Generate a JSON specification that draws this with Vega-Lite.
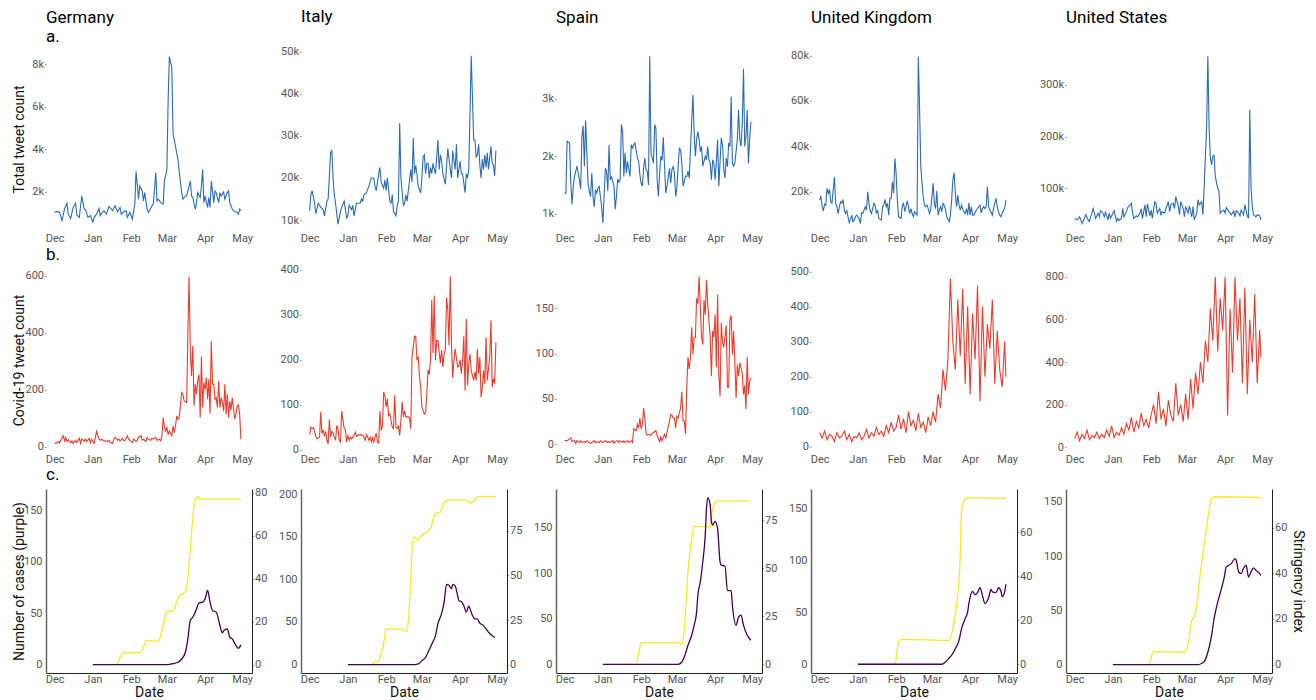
{
"$schema":"https://vega.github.io/schema/vega-lite/v6.json",
"background":"white",
"padding":{"left":12,"top":7,"right":2,"bottom":2},
"config":{
"view":{"stroke":null},
"font":"Roboto",
"axis":{"grid":false,"labelFont":"Roboto","labelFontSize":11,"labelColor":"#555555","titleFont":"Roboto","titleFontSize":14,"titleFontWeight":"normal","titleColor":"#111111","labelFlush":false},
"axisY":{"domain":false,"ticks":true,"tickSize":1.5,"tickColor":"#888888","labelPadding":1},
"axisX":{"domain":false,"ticks":false,"labelPadding":1},
"title":{"font":"Roboto","fontSize":17,"fontWeight":"normal","anchor":"start","frame":"group","color":"#000000","subtitleFont":"Roboto","subtitleFontSize":17,"subtitleColor":"#000000"},
"line":{"strokeWidth":1.1}
},
"datasets":{
"ta":[
{"c":"DE","d":"2019-12-01","v":1040},{"c":"DE","d":"2019-12-03","v":1090},{"c":"DE","d":"2019-12-05","v":1040},{"c":"DE","d":"2019-12-07","v":660},{"c":"DE","d":"2019-12-09","v":1200},{"c":"DE","d":"2019-12-11","v":1470},{"c":"DE","d":"2019-12-12","v":960},{"c":"DE","d":"2019-12-14","v":760},{"c":"DE","d":"2019-12-16","v":1270},{"c":"DE","d":"2019-12-18","v":1470},{"c":"DE","d":"2019-12-19","v":920},{"c":"DE","d":"2019-12-21","v":810},{"c":"DE","d":"2019-12-23","v":1810},{"c":"DE","d":"2019-12-25","v":1200},{"c":"DE","d":"2019-12-26","v":1170},{"c":"DE","d":"2019-12-28","v":810},{"c":"DE","d":"2019-12-30","v":890},{"c":"DE","d":"2020-01-01","v":580},{"c":"DE","d":"2020-01-02","v":810},{"c":"DE","d":"2020-01-04","v":960},{"c":"DE","d":"2020-01-06","v":1230},{"c":"DE","d":"2020-01-07","v":890},{"c":"DE","d":"2020-01-09","v":1070},{"c":"DE","d":"2020-01-10","v":1120},{"c":"DE","d":"2020-01-12","v":960},{"c":"DE","d":"2020-01-14","v":1320},{"c":"DE","d":"2020-01-16","v":1200},{"c":"DE","d":"2020-01-17","v":1120},{"c":"DE","d":"2020-01-19","v":1350},{"c":"DE","d":"2020-01-21","v":1070},{"c":"DE","d":"2020-01-23","v":1270},{"c":"DE","d":"2020-01-24","v":960},{"c":"DE","d":"2020-01-26","v":1070},{"c":"DE","d":"2020-01-28","v":1120},{"c":"DE","d":"2020-01-29","v":810},{"c":"DE","d":"2020-01-31","v":1040},{"c":"DE","d":"2020-02-02","v":730},{"c":"DE","d":"2020-02-04","v":1430},{"c":"DE","d":"2020-02-05","v":2970},{"c":"DE","d":"2020-02-07","v":1660},{"c":"DE","d":"2020-02-08","v":2280},{"c":"DE","d":"2020-02-10","v":2050},{"c":"DE","d":"2020-02-11","v":1580},{"c":"DE","d":"2020-02-12","v":1970},{"c":"DE","d":"2020-02-14","v":1200},{"c":"DE","d":"2020-02-15","v":1040},{"c":"DE","d":"2020-02-18","v":1350},{"c":"DE","d":"2020-02-19","v":1430},{"c":"DE","d":"2020-02-21","v":2900},{"c":"DE","d":"2020-02-22","v":1580},{"c":"DE","d":"2020-02-23","v":1660},{"c":"DE","d":"2020-02-25","v":1500},{"c":"DE","d":"2020-02-27","v":1430},{"c":"DE","d":"2020-02-28","v":2510},{"c":"DE","d":"2020-03-01","v":3050},{"c":"DE","d":"2020-03-02","v":6300},{"c":"DE","d":"2020-03-03","v":8350},{"c":"DE","d":"2020-03-05","v":7840},{"c":"DE","d":"2020-03-06","v":4750},{"c":"DE","d":"2020-03-08","v":4130},{"c":"DE","d":"2020-03-09","v":3820},{"c":"DE","d":"2020-03-10","v":3510},{"c":"DE","d":"2020-03-12","v":2430},{"c":"DE","d":"2020-03-13","v":1970},{"c":"DE","d":"2020-03-14","v":1660},{"c":"DE","d":"2020-03-16","v":1810},{"c":"DE","d":"2020-03-17","v":1810},{"c":"DE","d":"2020-03-18","v":2050},{"c":"DE","d":"2020-03-20","v":2510},{"c":"DE","d":"2020-03-21","v":1810},{"c":"DE","d":"2020-03-22","v":1740},{"c":"DE","d":"2020-03-24","v":1200},{"c":"DE","d":"2020-03-25","v":1500},{"c":"DE","d":"2020-03-26","v":1970},{"c":"DE","d":"2020-03-28","v":1740},{"c":"DE","d":"2020-03-29","v":2280},{"c":"DE","d":"2020-03-30","v":3050},{"c":"DE","d":"2020-03-31","v":1500},{"c":"DE","d":"2020-04-01","v":1810},{"c":"DE","d":"2020-04-03","v":1270},{"c":"DE","d":"2020-04-04","v":1740},{"c":"DE","d":"2020-04-05","v":1270},{"c":"DE","d":"2020-04-06","v":2510},{"c":"DE","d":"2020-04-08","v":1500},{"c":"DE","d":"2020-04-09","v":2050},{"c":"DE","d":"2020-04-10","v":1970},{"c":"DE","d":"2020-04-12","v":1500},{"c":"DE","d":"2020-04-13","v":1970},{"c":"DE","d":"2020-04-14","v":1810},{"c":"DE","d":"2020-04-16","v":2000},{"c":"DE","d":"2020-04-17","v":1660},{"c":"DE","d":"2020-04-19","v":1970},{"c":"DE","d":"2020-04-20","v":2050},{"c":"DE","d":"2020-04-21","v":1500},{"c":"DE","d":"2020-04-23","v":1200},{"c":"DE","d":"2020-04-24","v":1120},{"c":"DE","d":"2020-04-27","v":1040},{"c":"DE","d":"2020-04-28","v":960},{"c":"DE","d":"2020-04-29","v":1200},{"c":"DE","d":"2020-04-30","v":1120},
{"c":"IT","d":"2019-12-01","v":12200},{"c":"IT","d":"2019-12-02","v":16000},{"c":"IT","d":"2019-12-03","v":17000},{"c":"IT","d":"2019-12-05","v":14000},{"c":"IT","d":"2019-12-06","v":11500},{"c":"IT","d":"2019-12-08","v":14000},{"c":"IT","d":"2019-12-10","v":13000},{"c":"IT","d":"2019-12-12","v":12500},{"c":"IT","d":"2019-12-13","v":11000},{"c":"IT","d":"2019-12-15","v":14500},{"c":"IT","d":"2019-12-16","v":15000},{"c":"IT","d":"2019-12-18","v":26000},{"c":"IT","d":"2019-12-19","v":26500},{"c":"IT","d":"2019-12-20","v":20000},{"c":"IT","d":"2019-12-21","v":16000},{"c":"IT","d":"2019-12-22","v":14000},{"c":"IT","d":"2019-12-24","v":9000},{"c":"IT","d":"2019-12-26","v":12000},{"c":"IT","d":"2019-12-27","v":13000},{"c":"IT","d":"2019-12-29","v":14500},{"c":"IT","d":"2019-12-31","v":10500},{"c":"IT","d":"2020-01-01","v":11000},{"c":"IT","d":"2020-01-02","v":13500},{"c":"IT","d":"2020-01-04","v":12500},{"c":"IT","d":"2020-01-05","v":13500},{"c":"IT","d":"2020-01-06","v":11000},{"c":"IT","d":"2020-01-08","v":14000},{"c":"IT","d":"2020-01-10","v":14000},{"c":"IT","d":"2020-01-11","v":14000},{"c":"IT","d":"2020-01-12","v":15000},{"c":"IT","d":"2020-01-13","v":14500},{"c":"IT","d":"2020-01-14","v":16000},{"c":"IT","d":"2020-01-16","v":16500},{"c":"IT","d":"2020-01-18","v":18000},{"c":"IT","d":"2020-01-20","v":20000},{"c":"IT","d":"2020-01-22","v":20000},{"c":"IT","d":"2020-01-23","v":18000},{"c":"IT","d":"2020-01-24","v":17000},{"c":"IT","d":"2020-01-26","v":21000},{"c":"IT","d":"2020-01-27","v":22500},{"c":"IT","d":"2020-01-28","v":19000},{"c":"IT","d":"2020-01-30","v":17500},{"c":"IT","d":"2020-01-31","v":19500},{"c":"IT","d":"2020-02-01","v":17000},{"c":"IT","d":"2020-02-02","v":20000},{"c":"IT","d":"2020-02-04","v":14500},{"c":"IT","d":"2020-02-05","v":14000},{"c":"IT","d":"2020-02-06","v":16000},{"c":"IT","d":"2020-02-07","v":12000},{"c":"IT","d":"2020-02-09","v":11000},{"c":"IT","d":"2020-02-10","v":13500},{"c":"IT","d":"2020-02-11","v":14500},{"c":"IT","d":"2020-02-12","v":33000},{"c":"IT","d":"2020-02-13","v":20000},{"c":"IT","d":"2020-02-15","v":13500},{"c":"IT","d":"2020-02-16","v":14000},{"c":"IT","d":"2020-02-17","v":16000},{"c":"IT","d":"2020-02-18","v":14500},{"c":"IT","d":"2020-02-19","v":17000},{"c":"IT","d":"2020-02-21","v":22000},{"c":"IT","d":"2020-02-22","v":19000},{"c":"IT","d":"2020-02-23","v":29500},{"c":"IT","d":"2020-02-24","v":21000},{"c":"IT","d":"2020-02-25","v":23000},{"c":"IT","d":"2020-02-26","v":21000},{"c":"IT","d":"2020-02-27","v":18000},{"c":"IT","d":"2020-02-29","v":16500},{"c":"IT","d":"2020-03-01","v":20000},{"c":"IT","d":"2020-03-02","v":25000},{"c":"IT","d":"2020-03-03","v":25500},{"c":"IT","d":"2020-03-04","v":21000},{"c":"IT","d":"2020-03-05","v":23500},{"c":"IT","d":"2020-03-06","v":23500},{"c":"IT","d":"2020-03-07","v":20000},{"c":"IT","d":"2020-03-08","v":22500},{"c":"IT","d":"2020-03-09","v":21000},{"c":"IT","d":"2020-03-10","v":23500},{"c":"IT","d":"2020-03-11","v":22000},{"c":"IT","d":"2020-03-12","v":21000},{"c":"IT","d":"2020-03-14","v":29000},{"c":"IT","d":"2020-03-15","v":22000},{"c":"IT","d":"2020-03-16","v":25500},{"c":"IT","d":"2020-03-17","v":24000},{"c":"IT","d":"2020-03-18","v":21000},{"c":"IT","d":"2020-03-20","v":18500},{"c":"IT","d":"2020-03-22","v":27000},{"c":"IT","d":"2020-03-24","v":22000},{"c":"IT","d":"2020-03-25","v":20000},{"c":"IT","d":"2020-03-26","v":26500},{"c":"IT","d":"2020-03-28","v":22000},{"c":"IT","d":"2020-03-29","v":28000},{"c":"IT","d":"2020-03-30","v":20000},{"c":"IT","d":"2020-04-01","v":24000},{"c":"IT","d":"2020-04-02","v":21000},{"c":"IT","d":"2020-04-03","v":21000},{"c":"IT","d":"2020-04-05","v":16500},{"c":"IT","d":"2020-04-06","v":21000},{"c":"IT","d":"2020-04-07","v":20000},{"c":"IT","d":"2020-04-08","v":22000},{"c":"IT","d":"2020-04-10","v":49000},{"c":"IT","d":"2020-04-12","v":29000},{"c":"IT","d":"2020-04-13","v":29000},{"c":"IT","d":"2020-04-14","v":25000},{"c":"IT","d":"2020-04-15","v":25500},{"c":"IT","d":"2020-04-16","v":28000},{"c":"IT","d":"2020-04-17","v":23000},{"c":"IT","d":"2020-04-18","v":20000},{"c":"IT","d":"2020-04-19","v":24500},{"c":"IT","d":"2020-04-20","v":22000},{"c":"IT","d":"2020-04-21","v":25500},{"c":"IT","d":"2020-04-22","v":22500},{"c":"IT","d":"2020-04-23","v":26000},{"c":"IT","d":"2020-04-24","v":22000},{"c":"IT","d":"2020-04-26","v":27500},{"c":"IT","d":"2020-04-27","v":23500},{"c":"IT","d":"2020-04-28","v":23000},{"c":"IT","d":"2020-04-29","v":20500},{"c":"IT","d":"2020-04-30","v":26500},
{"c":"ES","d":"2019-12-01","v":1360},{"c":"ES","d":"2019-12-02","v":1350},{"c":"ES","d":"2019-12-03","v":2260},{"c":"ES","d":"2019-12-05","v":2230},{"c":"ES","d":"2019-12-06","v":1530},{"c":"ES","d":"2019-12-07","v":1160},{"c":"ES","d":"2019-12-08","v":1480},{"c":"ES","d":"2019-12-09","v":1650},{"c":"ES","d":"2019-12-11","v":1830},{"c":"ES","d":"2019-12-12","v":1710},{"c":"ES","d":"2019-12-13","v":1590},{"c":"ES","d":"2019-12-14","v":1430},{"c":"ES","d":"2019-12-15","v":2340},{"c":"ES","d":"2019-12-16","v":2530},{"c":"ES","d":"2019-12-17","v":1820},{"c":"ES","d":"2019-12-18","v":2620},{"c":"ES","d":"2019-12-19","v":2060},{"c":"ES","d":"2019-12-20","v":1530},{"c":"ES","d":"2019-12-21","v":1390},{"c":"ES","d":"2019-12-22","v":1300},{"c":"ES","d":"2019-12-23","v":1710},{"c":"ES","d":"2019-12-24","v":1300},{"c":"ES","d":"2019-12-25","v":1120},{"c":"ES","d":"2019-12-26","v":1420},{"c":"ES","d":"2019-12-27","v":1360},{"c":"ES","d":"2019-12-28","v":1450},{"c":"ES","d":"2019-12-29","v":1480},{"c":"ES","d":"2019-12-30","v":1300},{"c":"ES","d":"2019-12-31","v":1130},{"c":"ES","d":"2020-01-01","v":840},{"c":"ES","d":"2020-01-02","v":1300},{"c":"ES","d":"2020-01-03","v":1790},{"c":"ES","d":"2020-01-04","v":1740},{"c":"ES","d":"2020-01-05","v":1390},{"c":"ES","d":"2020-01-06","v":2200},{"c":"ES","d":"2020-01-07","v":1590},{"c":"ES","d":"2020-01-08","v":1640},{"c":"ES","d":"2020-01-10","v":1480},{"c":"ES","d":"2020-01-11","v":1080},{"c":"ES","d":"2020-01-12","v":1300},{"c":"ES","d":"2020-01-13","v":1600},{"c":"ES","d":"2020-01-14","v":1550},{"c":"ES","d":"2020-01-15","v":1590},{"c":"ES","d":"2020-01-16","v":2550},{"c":"ES","d":"2020-01-17","v":2430},{"c":"ES","d":"2020-01-18","v":1650},{"c":"ES","d":"2020-01-19","v":2060},{"c":"ES","d":"2020-01-20","v":1710},{"c":"ES","d":"2020-01-21","v":1910},{"c":"ES","d":"2020-01-22","v":1770},{"c":"ES","d":"2020-01-23","v":1650},{"c":"ES","d":"2020-01-24","v":2200},{"c":"ES","d":"2020-01-25","v":2140},{"c":"ES","d":"2020-01-26","v":2200},{"c":"ES","d":"2020-01-27","v":2230},{"c":"ES","d":"2020-01-29","v":1970},{"c":"ES","d":"2020-01-30","v":1910},{"c":"ES","d":"2020-01-31","v":1680},{"c":"ES","d":"2020-02-01","v":1530},{"c":"ES","d":"2020-02-02","v":1480},{"c":"ES","d":"2020-02-03","v":1790},{"c":"ES","d":"2020-02-04","v":1970},{"c":"ES","d":"2020-02-05","v":1770},{"c":"ES","d":"2020-02-06","v":1740},{"c":"ES","d":"2020-02-07","v":1500},{"c":"ES","d":"2020-02-08","v":3740},{"c":"ES","d":"2020-02-09","v":2060},{"c":"ES","d":"2020-02-11","v":1880},{"c":"ES","d":"2020-02-12","v":2550},{"c":"ES","d":"2020-02-13","v":2490},{"c":"ES","d":"2020-02-14","v":1590},{"c":"ES","d":"2020-02-15","v":1300},{"c":"ES","d":"2020-02-16","v":1710},{"c":"ES","d":"2020-02-17","v":2000},{"c":"ES","d":"2020-02-18","v":1930},{"c":"ES","d":"2020-02-19","v":2330},{"c":"ES","d":"2020-02-20","v":1820},{"c":"ES","d":"2020-02-21","v":1360},{"c":"ES","d":"2020-02-22","v":1480},{"c":"ES","d":"2020-02-24","v":1790},{"c":"ES","d":"2020-02-25","v":1530},{"c":"ES","d":"2020-02-26","v":1770},{"c":"ES","d":"2020-02-27","v":1820},{"c":"ES","d":"2020-02-28","v":1710},{"c":"ES","d":"2020-02-29","v":1300},{"c":"ES","d":"2020-03-01","v":1450},{"c":"ES","d":"2020-03-02","v":1820},{"c":"ES","d":"2020-03-03","v":2140},{"c":"ES","d":"2020-03-04","v":2110},{"c":"ES","d":"2020-03-05","v":1880},{"c":"ES","d":"2020-03-06","v":1480},{"c":"ES","d":"2020-03-08","v":1650},{"c":"ES","d":"2020-03-09","v":1650},{"c":"ES","d":"2020-03-10","v":1740},{"c":"ES","d":"2020-03-11","v":1620},{"c":"ES","d":"2020-03-12","v":2110},{"c":"ES","d":"2020-03-13","v":2600},{"c":"ES","d":"2020-03-14","v":3070},{"c":"ES","d":"2020-03-15","v":2400},{"c":"ES","d":"2020-03-16","v":2000},{"c":"ES","d":"2020-03-17","v":2290},{"c":"ES","d":"2020-03-18","v":2430},{"c":"ES","d":"2020-03-19","v":2290},{"c":"ES","d":"2020-03-20","v":2080},{"c":"ES","d":"2020-03-21","v":2170},{"c":"ES","d":"2020-03-22","v":1830},{"c":"ES","d":"2020-03-24","v":2000},{"c":"ES","d":"2020-03-25","v":1940},{"c":"ES","d":"2020-03-26","v":2170},{"c":"ES","d":"2020-03-27","v":1940},{"c":"ES","d":"2020-03-28","v":1880},{"c":"ES","d":"2020-03-29","v":1590},{"c":"ES","d":"2020-03-30","v":1940},{"c":"ES","d":"2020-03-31","v":1880},{"c":"ES","d":"2020-04-01","v":1590},{"c":"ES","d":"2020-04-02","v":1910},{"c":"ES","d":"2020-04-03","v":2290},{"c":"ES","d":"2020-04-04","v":1480},{"c":"ES","d":"2020-04-06","v":2320},{"c":"ES","d":"2020-04-07","v":2200},{"c":"ES","d":"2020-04-08","v":1770},{"c":"ES","d":"2020-04-09","v":1620},{"c":"ES","d":"2020-04-10","v":1970},{"c":"ES","d":"2020-04-11","v":1820},{"c":"ES","d":"2020-04-12","v":2230},{"c":"ES","d":"2020-04-13","v":2170},{"c":"ES","d":"2020-04-14","v":3040},{"c":"ES","d":"2020-04-15","v":1880},{"c":"ES","d":"2020-04-16","v":1830},{"c":"ES","d":"2020-04-17","v":1880},{"c":"ES","d":"2020-04-19","v":2290},{"c":"ES","d":"2020-04-20","v":2810},{"c":"ES","d":"2020-04-21","v":2290},{"c":"ES","d":"2020-04-22","v":2170},{"c":"ES","d":"2020-04-23","v":2580},{"c":"ES","d":"2020-04-24","v":3520},{"c":"ES","d":"2020-04-25","v":2170},{"c":"ES","d":"2020-04-26","v":2340},{"c":"ES","d":"2020-04-27","v":2810},{"c":"ES","d":"2020-04-28","v":1880},{"c":"ES","d":"2020-04-29","v":2290},{"c":"ES","d":"2020-04-30","v":2600},
{"c":"UK","d":"2019-12-01","v":16300},{"c":"UK","d":"2019-12-02","v":18100},{"c":"UK","d":"2019-12-03","v":13400},{"c":"UK","d":"2019-12-04","v":11600},{"c":"UK","d":"2019-12-05","v":14600},{"c":"UK","d":"2019-12-06","v":14100},{"c":"UK","d":"2019-12-07","v":21500},{"c":"UK","d":"2019-12-08","v":19300},{"c":"UK","d":"2019-12-09","v":21000},{"c":"UK","d":"2019-12-10","v":15600},{"c":"UK","d":"2019-12-11","v":14900},{"c":"UK","d":"2019-12-13","v":26600},{"c":"UK","d":"2019-12-14","v":14900},{"c":"UK","d":"2019-12-15","v":13400},{"c":"UK","d":"2019-12-16","v":10400},{"c":"UK","d":"2019-12-17","v":13400},{"c":"UK","d":"2019-12-18","v":15600},{"c":"UK","d":"2019-12-19","v":14900},{"c":"UK","d":"2019-12-20","v":16600},{"c":"UK","d":"2019-12-21","v":11900},{"c":"UK","d":"2019-12-22","v":10400},{"c":"UK","d":"2019-12-23","v":11600},{"c":"UK","d":"2019-12-25","v":6300},{"c":"UK","d":"2019-12-26","v":7800},{"c":"UK","d":"2019-12-27","v":9700},{"c":"UK","d":"2019-12-28","v":6800},{"c":"UK","d":"2019-12-29","v":7500},{"c":"UK","d":"2019-12-30","v":9000},{"c":"UK","d":"2019-12-31","v":9700},{"c":"UK","d":"2020-01-01","v":9000},{"c":"UK","d":"2020-01-02","v":8200},{"c":"UK","d":"2020-01-03","v":6000},{"c":"UK","d":"2020-01-04","v":10700},{"c":"UK","d":"2020-01-05","v":10400},{"c":"UK","d":"2020-01-07","v":13400},{"c":"UK","d":"2020-01-08","v":11900},{"c":"UK","d":"2020-01-09","v":20000},{"c":"UK","d":"2020-01-10","v":14900},{"c":"UK","d":"2020-01-11","v":11600},{"c":"UK","d":"2020-01-12","v":10400},{"c":"UK","d":"2020-01-13","v":12600},{"c":"UK","d":"2020-01-14","v":14900},{"c":"UK","d":"2020-01-15","v":14100},{"c":"UK","d":"2020-01-16","v":10400},{"c":"UK","d":"2020-01-17","v":11900},{"c":"UK","d":"2020-01-18","v":8200},{"c":"UK","d":"2020-01-20","v":7500},{"c":"UK","d":"2020-01-21","v":13400},{"c":"UK","d":"2020-01-22","v":14100},{"c":"UK","d":"2020-01-23","v":16600},{"c":"UK","d":"2020-01-24","v":13400},{"c":"UK","d":"2020-01-25","v":14900},{"c":"UK","d":"2020-01-26","v":9700},{"c":"UK","d":"2020-01-27","v":17100},{"c":"UK","d":"2020-01-28","v":17100},{"c":"UK","d":"2020-01-29","v":24400},{"c":"UK","d":"2020-01-30","v":19300},{"c":"UK","d":"2020-01-31","v":34700},{"c":"UK","d":"2020-02-01","v":28100},{"c":"UK","d":"2020-02-02","v":16300},{"c":"UK","d":"2020-02-03","v":9000},{"c":"UK","d":"2020-02-05","v":8200},{"c":"UK","d":"2020-02-06","v":14100},{"c":"UK","d":"2020-02-07","v":14900},{"c":"UK","d":"2020-02-08","v":11200},{"c":"UK","d":"2020-02-09","v":13400},{"c":"UK","d":"2020-02-10","v":16000},{"c":"UK","d":"2020-02-11","v":13400},{"c":"UK","d":"2020-02-12","v":10400},{"c":"UK","d":"2020-02-13","v":12600},{"c":"UK","d":"2020-02-14","v":10400},{"c":"UK","d":"2020-02-15","v":9000},{"c":"UK","d":"2020-02-16","v":11200},{"c":"UK","d":"2020-02-18","v":9700},{"c":"UK","d":"2020-02-19","v":79600},{"c":"UK","d":"2020-02-20","v":57500},{"c":"UK","d":"2020-02-21","v":31000},{"c":"UK","d":"2020-02-22","v":23700},{"c":"UK","d":"2020-02-23","v":17800},{"c":"UK","d":"2020-02-24","v":14100},{"c":"UK","d":"2020-02-25","v":13400},{"c":"UK","d":"2020-02-26","v":14100},{"c":"UK","d":"2020-02-27","v":12600},{"c":"UK","d":"2020-02-28","v":10400},{"c":"UK","d":"2020-02-29","v":11900},{"c":"UK","d":"2020-03-02","v":23700},{"c":"UK","d":"2020-03-03","v":14900},{"c":"UK","d":"2020-03-04","v":12600},{"c":"UK","d":"2020-03-05","v":20400},{"c":"UK","d":"2020-03-06","v":9700},{"c":"UK","d":"2020-03-07","v":11900},{"c":"UK","d":"2020-03-08","v":13400},{"c":"UK","d":"2020-03-09","v":11200},{"c":"UK","d":"2020-03-10","v":14900},{"c":"UK","d":"2020-03-11","v":14100},{"c":"UK","d":"2020-03-12","v":12200},{"c":"UK","d":"2020-03-13","v":9000},{"c":"UK","d":"2020-03-15","v":6800},{"c":"UK","d":"2020-03-16","v":9700},{"c":"UK","d":"2020-03-17","v":16300},{"c":"UK","d":"2020-03-18","v":25100},{"c":"UK","d":"2020-03-19","v":28400},{"c":"UK","d":"2020-03-20","v":19300},{"c":"UK","d":"2020-03-21","v":13400},{"c":"UK","d":"2020-03-22","v":18500},{"c":"UK","d":"2020-03-23","v":14100},{"c":"UK","d":"2020-03-24","v":11900},{"c":"UK","d":"2020-03-25","v":14100},{"c":"UK","d":"2020-03-26","v":12200},{"c":"UK","d":"2020-03-28","v":10400},{"c":"UK","d":"2020-03-29","v":12600},{"c":"UK","d":"2020-03-30","v":9700},{"c":"UK","d":"2020-03-31","v":15100},{"c":"UK","d":"2020-04-01","v":9700},{"c":"UK","d":"2020-04-02","v":13400},{"c":"UK","d":"2020-04-03","v":9700},{"c":"UK","d":"2020-04-04","v":9700},{"c":"UK","d":"2020-04-05","v":10700},{"c":"UK","d":"2020-04-06","v":11900},{"c":"UK","d":"2020-04-07","v":12600},{"c":"UK","d":"2020-04-09","v":14100},{"c":"UK","d":"2020-04-10","v":10700},{"c":"UK","d":"2020-04-11","v":12600},{"c":"UK","d":"2020-04-12","v":13400},{"c":"UK","d":"2020-04-13","v":12600},{"c":"UK","d":"2020-04-14","v":13400},{"c":"UK","d":"2020-04-15","v":22200},{"c":"UK","d":"2020-04-16","v":13400},{"c":"UK","d":"2020-04-17","v":11900},{"c":"UK","d":"2020-04-18","v":11200},{"c":"UK","d":"2020-04-19","v":9700},{"c":"UK","d":"2020-04-20","v":12600},{"c":"UK","d":"2020-04-22","v":17100},{"c":"UK","d":"2020-04-23","v":13400},{"c":"UK","d":"2020-04-24","v":11200},{"c":"UK","d":"2020-04-25","v":9700},{"c":"UK","d":"2020-04-26","v":9000},{"c":"UK","d":"2020-04-27","v":10400},{"c":"UK","d":"2020-04-28","v":11900},{"c":"UK","d":"2020-04-29","v":12600},{"c":"UK","d":"2020-04-30","v":16300},
{"c":"US","d":"2019-12-01","v":42000},{"c":"US","d":"2019-12-02","v":40000},{"c":"US","d":"2019-12-03","v":39000},{"c":"US","d":"2019-12-05","v":45000},{"c":"US","d":"2019-12-06","v":39000},{"c":"US","d":"2019-12-07","v":32000},{"c":"US","d":"2019-12-09","v":42000},{"c":"US","d":"2019-12-10","v":49000},{"c":"US","d":"2019-12-12","v":39000},{"c":"US","d":"2019-12-13","v":36000},{"c":"US","d":"2019-12-14","v":45000},{"c":"US","d":"2019-12-16","v":61000},{"c":"US","d":"2019-12-17","v":52000},{"c":"US","d":"2019-12-18","v":42000},{"c":"US","d":"2019-12-20","v":52000},{"c":"US","d":"2019-12-21","v":45000},{"c":"US","d":"2019-12-22","v":57000},{"c":"US","d":"2019-12-24","v":52000},{"c":"US","d":"2019-12-25","v":45000},{"c":"US","d":"2019-12-26","v":54000},{"c":"US","d":"2019-12-28","v":39000},{"c":"US","d":"2019-12-29","v":52000},{"c":"US","d":"2019-12-30","v":42000},{"c":"US","d":"2020-01-01","v":52000},{"c":"US","d":"2020-01-02","v":57000},{"c":"US","d":"2020-01-04","v":36000},{"c":"US","d":"2020-01-05","v":42000},{"c":"US","d":"2020-01-06","v":38000},{"c":"US","d":"2020-01-08","v":42000},{"c":"US","d":"2020-01-09","v":61000},{"c":"US","d":"2020-01-10","v":45000},{"c":"US","d":"2020-01-12","v":55000},{"c":"US","d":"2020-01-13","v":63000},{"c":"US","d":"2020-01-14","v":65000},{"c":"US","d":"2020-01-16","v":71000},{"c":"US","d":"2020-01-17","v":52000},{"c":"US","d":"2020-01-18","v":42000},{"c":"US","d":"2020-01-20","v":47000},{"c":"US","d":"2020-01-21","v":45000},{"c":"US","d":"2020-01-23","v":52000},{"c":"US","d":"2020-01-24","v":61000},{"c":"US","d":"2020-01-25","v":42000},{"c":"US","d":"2020-01-27","v":68000},{"c":"US","d":"2020-01-28","v":45000},{"c":"US","d":"2020-01-29","v":70000},{"c":"US","d":"2020-01-31","v":47000},{"c":"US","d":"2020-02-01","v":58000},{"c":"US","d":"2020-02-02","v":42000},{"c":"US","d":"2020-02-04","v":74000},{"c":"US","d":"2020-02-05","v":71000},{"c":"US","d":"2020-02-06","v":52000},{"c":"US","d":"2020-02-08","v":61000},{"c":"US","d":"2020-02-09","v":49000},{"c":"US","d":"2020-02-10","v":55000},{"c":"US","d":"2020-02-12","v":52000},{"c":"US","d":"2020-02-13","v":61000},{"c":"US","d":"2020-02-15","v":74000},{"c":"US","d":"2020-02-16","v":55000},{"c":"US","d":"2020-02-17","v":68000},{"c":"US","d":"2020-02-19","v":71000},{"c":"US","d":"2020-02-20","v":61000},{"c":"US","d":"2020-02-21","v":84000},{"c":"US","d":"2020-02-23","v":66000},{"c":"US","d":"2020-02-24","v":49000},{"c":"US","d":"2020-02-25","v":74000},{"c":"US","d":"2020-02-27","v":61000},{"c":"US","d":"2020-02-28","v":45000},{"c":"US","d":"2020-02-29","v":65000},{"c":"US","d":"2020-03-02","v":52000},{"c":"US","d":"2020-03-03","v":66000},{"c":"US","d":"2020-03-05","v":45000},{"c":"US","d":"2020-03-06","v":65000},{"c":"US","d":"2020-03-07","v":39000},{"c":"US","d":"2020-03-09","v":52000},{"c":"US","d":"2020-03-10","v":78000},{"c":"US","d":"2020-03-11","v":68000},{"c":"US","d":"2020-03-13","v":74000},{"c":"US","d":"2020-03-14","v":49000},{"c":"US","d":"2020-03-15","v":103000},{"c":"US","d":"2020-03-17","v":219000},{"c":"US","d":"2020-03-18","v":355000},{"c":"US","d":"2020-03-19","v":219000},{"c":"US","d":"2020-03-20","v":161000},{"c":"US","d":"2020-03-21","v":145000},{"c":"US","d":"2020-03-22","v":162000},{"c":"US","d":"2020-03-23","v":164000},{"c":"US","d":"2020-03-24","v":123000},{"c":"US","d":"2020-03-26","v":100000},{"c":"US","d":"2020-03-27","v":95000},{"c":"US","d":"2020-03-28","v":52000},{"c":"US","d":"2020-03-29","v":55000},{"c":"US","d":"2020-03-31","v":58000},{"c":"US","d":"2020-04-01","v":52000},{"c":"US","d":"2020-04-02","v":63000},{"c":"US","d":"2020-04-04","v":55000},{"c":"US","d":"2020-04-05","v":52000},{"c":"US","d":"2020-04-06","v":49000},{"c":"US","d":"2020-04-08","v":56000},{"c":"US","d":"2020-04-09","v":45000},{"c":"US","d":"2020-04-10","v":57000},{"c":"US","d":"2020-04-12","v":52000},{"c":"US","d":"2020-04-13","v":47000},{"c":"US","d":"2020-04-14","v":58000},{"c":"US","d":"2020-04-16","v":49000},{"c":"US","d":"2020-04-17","v":68000},{"c":"US","d":"2020-04-19","v":47000},{"c":"US","d":"2020-04-20","v":42000},{"c":"US","d":"2020-04-21","v":251000},{"c":"US","d":"2020-04-22","v":103000},{"c":"US","d":"2020-04-23","v":65000},{"c":"US","d":"2020-04-24","v":49000},{"c":"US","d":"2020-04-26","v":45000},{"c":"US","d":"2020-04-27","v":49000},{"c":"US","d":"2020-04-29","v":47000},{"c":"US","d":"2020-04-30","v":39000}
],
"cv":[
{"c":"DE","d":"2019-12-01","v":15},{"c":"DE","d":"2019-12-02","v":12},{"c":"DE","d":"2019-12-04","v":19},{"c":"DE","d":"2019-12-05","v":13},{"c":"DE","d":"2019-12-06","v":23},{"c":"DE","d":"2019-12-08","v":39},{"c":"DE","d":"2019-12-09","v":21},{"c":"DE","d":"2019-12-10","v":33},{"c":"DE","d":"2019-12-11","v":19},{"c":"DE","d":"2019-12-12","v":25},{"c":"DE","d":"2019-12-14","v":15},{"c":"DE","d":"2019-12-15","v":21},{"c":"DE","d":"2019-12-16","v":12},{"c":"DE","d":"2019-12-18","v":23},{"c":"DE","d":"2019-12-19","v":15},{"c":"DE","d":"2019-12-21","v":30},{"c":"DE","d":"2019-12-22","v":12},{"c":"DE","d":"2019-12-23","v":27},{"c":"DE","d":"2019-12-25","v":21},{"c":"DE","d":"2019-12-26","v":27},{"c":"DE","d":"2019-12-27","v":19},{"c":"DE","d":"2019-12-29","v":30},{"c":"DE","d":"2019-12-30","v":15},{"c":"DE","d":"2019-12-31","v":27},{"c":"DE","d":"2020-01-02","v":12},{"c":"DE","d":"2020-01-03","v":33},{"c":"DE","d":"2020-01-04","v":54},{"c":"DE","d":"2020-01-06","v":27},{"c":"DE","d":"2020-01-07","v":23},{"c":"DE","d":"2020-01-08","v":27},{"c":"DE","d":"2020-01-10","v":21},{"c":"DE","d":"2020-01-11","v":21},{"c":"DE","d":"2020-01-13","v":19},{"c":"DE","d":"2020-01-14","v":23},{"c":"DE","d":"2020-01-15","v":15},{"c":"DE","d":"2020-01-17","v":12},{"c":"DE","d":"2020-01-18","v":27},{"c":"DE","d":"2020-01-19","v":33},{"c":"DE","d":"2020-01-21","v":23},{"c":"DE","d":"2020-01-22","v":27},{"c":"DE","d":"2020-01-23","v":21},{"c":"DE","d":"2020-01-25","v":30},{"c":"DE","d":"2020-01-26","v":21},{"c":"DE","d":"2020-01-27","v":23},{"c":"DE","d":"2020-01-29","v":39},{"c":"DE","d":"2020-01-30","v":27},{"c":"DE","d":"2020-02-01","v":19},{"c":"DE","d":"2020-02-02","v":15},{"c":"DE","d":"2020-02-03","v":27},{"c":"DE","d":"2020-02-05","v":19},{"c":"DE","d":"2020-02-06","v":23},{"c":"DE","d":"2020-02-07","v":33},{"c":"DE","d":"2020-02-09","v":39},{"c":"DE","d":"2020-02-10","v":23},{"c":"DE","d":"2020-02-11","v":27},{"c":"DE","d":"2020-02-13","v":19},{"c":"DE","d":"2020-02-14","v":33},{"c":"DE","d":"2020-02-15","v":27},{"c":"DE","d":"2020-02-17","v":23},{"c":"DE","d":"2020-02-18","v":30},{"c":"DE","d":"2020-02-19","v":27},{"c":"DE","d":"2020-02-21","v":33},{"c":"DE","d":"2020-02-22","v":23},{"c":"DE","d":"2020-02-24","v":27},{"c":"DE","d":"2020-02-25","v":21},{"c":"DE","d":"2020-02-26","v":39},{"c":"DE","d":"2020-02-27","v":103},{"c":"DE","d":"2020-02-28","v":68},{"c":"DE","d":"2020-02-29","v":56},{"c":"DE","d":"2020-03-01","v":68},{"c":"DE","d":"2020-03-02","v":44},{"c":"DE","d":"2020-03-03","v":56},{"c":"DE","d":"2020-03-05","v":39},{"c":"DE","d":"2020-03-06","v":74},{"c":"DE","d":"2020-03-07","v":50},{"c":"DE","d":"2020-03-08","v":74},{"c":"DE","d":"2020-03-09","v":109},{"c":"DE","d":"2020-03-10","v":97},{"c":"DE","d":"2020-03-11","v":103},{"c":"DE","d":"2020-03-12","v":150},{"c":"DE","d":"2020-03-13","v":191},{"c":"DE","d":"2020-03-14","v":185},{"c":"DE","d":"2020-03-15","v":161},{"c":"DE","d":"2020-03-17","v":156},{"c":"DE","d":"2020-03-18","v":396},{"c":"DE","d":"2020-03-19","v":596},{"c":"DE","d":"2020-03-20","v":337},{"c":"DE","d":"2020-03-21","v":249},{"c":"DE","d":"2020-03-22","v":354},{"c":"DE","d":"2020-03-23","v":144},{"c":"DE","d":"2020-03-24","v":220},{"c":"DE","d":"2020-03-25","v":185},{"c":"DE","d":"2020-03-26","v":232},{"c":"DE","d":"2020-03-27","v":253},{"c":"DE","d":"2020-03-28","v":103},{"c":"DE","d":"2020-03-29","v":316},{"c":"DE","d":"2020-03-30","v":138},{"c":"DE","d":"2020-03-31","v":226},{"c":"DE","d":"2020-04-01","v":202},{"c":"DE","d":"2020-04-02","v":243},{"c":"DE","d":"2020-04-03","v":167},{"c":"DE","d":"2020-04-04","v":237},{"c":"DE","d":"2020-04-05","v":117},{"c":"DE","d":"2020-04-06","v":372},{"c":"DE","d":"2020-04-07","v":220},{"c":"DE","d":"2020-04-08","v":220},{"c":"DE","d":"2020-04-09","v":167},{"c":"DE","d":"2020-04-10","v":173},{"c":"DE","d":"2020-04-11","v":138},{"c":"DE","d":"2020-04-12","v":232},{"c":"DE","d":"2020-04-13","v":138},{"c":"DE","d":"2020-04-14","v":173},{"c":"DE","d":"2020-04-15","v":156},{"c":"DE","d":"2020-04-16","v":126},{"c":"DE","d":"2020-04-17","v":220},{"c":"DE","d":"2020-04-18","v":115},{"c":"DE","d":"2020-04-19","v":185},{"c":"DE","d":"2020-04-20","v":103},{"c":"DE","d":"2020-04-21","v":161},{"c":"DE","d":"2020-04-22","v":129},{"c":"DE","d":"2020-04-23","v":173},{"c":"DE","d":"2020-04-24","v":132},{"c":"DE","d":"2020-04-25","v":97},{"c":"DE","d":"2020-04-26","v":115},{"c":"DE","d":"2020-04-27","v":144},{"c":"DE","d":"2020-04-28","v":147},{"c":"DE","d":"2020-04-29","v":115},{"c":"DE","d":"2020-04-30","v":27},
{"c":"IT","d":"2019-12-01","v":34},{"c":"IT","d":"2019-12-02","v":50},{"c":"IT","d":"2019-12-03","v":47},{"c":"IT","d":"2019-12-04","v":49},{"c":"IT","d":"2019-12-05","v":41},{"c":"IT","d":"2019-12-06","v":30},{"c":"IT","d":"2019-12-07","v":24},{"c":"IT","d":"2019-12-09","v":28},{"c":"IT","d":"2019-12-10","v":84},{"c":"IT","d":"2019-12-11","v":36},{"c":"IT","d":"2019-12-12","v":43},{"c":"IT","d":"2019-12-13","v":32},{"c":"IT","d":"2019-12-14","v":39},{"c":"IT","d":"2019-12-15","v":21},{"c":"IT","d":"2019-12-16","v":13},{"c":"IT","d":"2019-12-17","v":67},{"c":"IT","d":"2019-12-18","v":28},{"c":"IT","d":"2019-12-19","v":41},{"c":"IT","d":"2019-12-20","v":37},{"c":"IT","d":"2019-12-21","v":28},{"c":"IT","d":"2019-12-22","v":21},{"c":"IT","d":"2019-12-23","v":54},{"c":"IT","d":"2019-12-24","v":47},{"c":"IT","d":"2019-12-25","v":21},{"c":"IT","d":"2019-12-26","v":17},{"c":"IT","d":"2019-12-27","v":86},{"c":"IT","d":"2019-12-29","v":47},{"c":"IT","d":"2019-12-30","v":44},{"c":"IT","d":"2019-12-31","v":17},{"c":"IT","d":"2020-01-01","v":32},{"c":"IT","d":"2020-01-02","v":21},{"c":"IT","d":"2020-01-03","v":28},{"c":"IT","d":"2020-01-04","v":24},{"c":"IT","d":"2020-01-05","v":28},{"c":"IT","d":"2020-01-06","v":32},{"c":"IT","d":"2020-01-07","v":39},{"c":"IT","d":"2020-01-08","v":30},{"c":"IT","d":"2020-01-09","v":32},{"c":"IT","d":"2020-01-11","v":34},{"c":"IT","d":"2020-01-12","v":32},{"c":"IT","d":"2020-01-13","v":32},{"c":"IT","d":"2020-01-14","v":28},{"c":"IT","d":"2020-01-15","v":21},{"c":"IT","d":"2020-01-16","v":34},{"c":"IT","d":"2020-01-17","v":28},{"c":"IT","d":"2020-01-18","v":21},{"c":"IT","d":"2020-01-19","v":28},{"c":"IT","d":"2020-01-20","v":17},{"c":"IT","d":"2020-01-21","v":27},{"c":"IT","d":"2020-01-22","v":17},{"c":"IT","d":"2020-01-24","v":37},{"c":"IT","d":"2020-01-25","v":17},{"c":"IT","d":"2020-01-26","v":15},{"c":"IT","d":"2020-01-27","v":86},{"c":"IT","d":"2020-01-28","v":43},{"c":"IT","d":"2020-01-29","v":52},{"c":"IT","d":"2020-01-30","v":128},{"c":"IT","d":"2020-01-31","v":121},{"c":"IT","d":"2020-02-01","v":95},{"c":"IT","d":"2020-02-02","v":113},{"c":"IT","d":"2020-02-03","v":76},{"c":"IT","d":"2020-02-04","v":80},{"c":"IT","d":"2020-02-06","v":50},{"c":"IT","d":"2020-02-07","v":47},{"c":"IT","d":"2020-02-08","v":121},{"c":"IT","d":"2020-02-09","v":50},{"c":"IT","d":"2020-02-10","v":47},{"c":"IT","d":"2020-02-11","v":54},{"c":"IT","d":"2020-02-12","v":32},{"c":"IT","d":"2020-02-13","v":65},{"c":"IT","d":"2020-02-14","v":106},{"c":"IT","d":"2020-02-15","v":73},{"c":"IT","d":"2020-02-16","v":87},{"c":"IT","d":"2020-02-17","v":73},{"c":"IT","d":"2020-02-19","v":73},{"c":"IT","d":"2020-02-20","v":71},{"c":"IT","d":"2020-02-21","v":47},{"c":"IT","d":"2020-02-22","v":206},{"c":"IT","d":"2020-02-23","v":227},{"c":"IT","d":"2020-02-24","v":252},{"c":"IT","d":"2020-02-25","v":252},{"c":"IT","d":"2020-02-26","v":199},{"c":"IT","d":"2020-02-27","v":207},{"c":"IT","d":"2020-02-28","v":165},{"c":"IT","d":"2020-02-29","v":139},{"c":"IT","d":"2020-03-01","v":95},{"c":"IT","d":"2020-03-03","v":79},{"c":"IT","d":"2020-03-04","v":81},{"c":"IT","d":"2020-03-05","v":124},{"c":"IT","d":"2020-03-06","v":178},{"c":"IT","d":"2020-03-07","v":167},{"c":"IT","d":"2020-03-08","v":199},{"c":"IT","d":"2020-03-09","v":333},{"c":"IT","d":"2020-03-10","v":215},{"c":"IT","d":"2020-03-11","v":343},{"c":"IT","d":"2020-03-12","v":199},{"c":"IT","d":"2020-03-13","v":243},{"c":"IT","d":"2020-03-14","v":243},{"c":"IT","d":"2020-03-16","v":193},{"c":"IT","d":"2020-03-17","v":221},{"c":"IT","d":"2020-03-18","v":184},{"c":"IT","d":"2020-03-19","v":213},{"c":"IT","d":"2020-03-20","v":222},{"c":"IT","d":"2020-03-21","v":338},{"c":"IT","d":"2020-03-22","v":310},{"c":"IT","d":"2020-03-23","v":232},{"c":"IT","d":"2020-03-24","v":385},{"c":"IT","d":"2020-03-25","v":232},{"c":"IT","d":"2020-03-26","v":160},{"c":"IT","d":"2020-03-27","v":200},{"c":"IT","d":"2020-03-28","v":224},{"c":"IT","d":"2020-03-30","v":184},{"c":"IT","d":"2020-03-31","v":187},{"c":"IT","d":"2020-04-01","v":200},{"c":"IT","d":"2020-04-02","v":169},{"c":"IT","d":"2020-04-03","v":199},{"c":"IT","d":"2020-04-04","v":252},{"c":"IT","d":"2020-04-05","v":132},{"c":"IT","d":"2020-04-06","v":291},{"c":"IT","d":"2020-04-07","v":143},{"c":"IT","d":"2020-04-08","v":191},{"c":"IT","d":"2020-04-09","v":213},{"c":"IT","d":"2020-04-10","v":176},{"c":"IT","d":"2020-04-12","v":154},{"c":"IT","d":"2020-04-13","v":173},{"c":"IT","d":"2020-04-14","v":154},{"c":"IT","d":"2020-04-15","v":224},{"c":"IT","d":"2020-04-16","v":169},{"c":"IT","d":"2020-04-17","v":206},{"c":"IT","d":"2020-04-18","v":117},{"c":"IT","d":"2020-04-19","v":139},{"c":"IT","d":"2020-04-20","v":176},{"c":"IT","d":"2020-04-21","v":147},{"c":"IT","d":"2020-04-22","v":250},{"c":"IT","d":"2020-04-23","v":154},{"c":"IT","d":"2020-04-25","v":206},{"c":"IT","d":"2020-04-26","v":287},{"c":"IT","d":"2020-04-27","v":139},{"c":"IT","d":"2020-04-28","v":158},{"c":"IT","d":"2020-04-29","v":147},{"c":"IT","d":"2020-04-30","v":239},
{"c":"ES","d":"2019-12-01","v":4},{"c":"ES","d":"2019-12-03","v":4},{"c":"ES","d":"2019-12-05","v":6},{"c":"ES","d":"2019-12-06","v":7},{"c":"ES","d":"2019-12-07","v":3},{"c":"ES","d":"2019-12-09","v":4},{"c":"ES","d":"2019-12-10","v":1},{"c":"ES","d":"2019-12-11","v":4},{"c":"ES","d":"2019-12-13","v":2},{"c":"ES","d":"2019-12-14","v":4},{"c":"ES","d":"2019-12-15","v":2},{"c":"ES","d":"2019-12-17","v":3},{"c":"ES","d":"2019-12-18","v":2},{"c":"ES","d":"2019-12-19","v":4},{"c":"ES","d":"2019-12-21","v":2},{"c":"ES","d":"2019-12-22","v":1},{"c":"ES","d":"2019-12-23","v":2},{"c":"ES","d":"2019-12-25","v":4},{"c":"ES","d":"2019-12-26","v":1.5},{"c":"ES","d":"2019-12-27","v":3},{"c":"ES","d":"2019-12-29","v":2},{"c":"ES","d":"2019-12-30","v":4},{"c":"ES","d":"2020-01-01","v":2},{"c":"ES","d":"2020-01-02","v":3},{"c":"ES","d":"2020-01-03","v":4},{"c":"ES","d":"2020-01-05","v":2},{"c":"ES","d":"2020-01-06","v":3},{"c":"ES","d":"2020-01-07","v":2},{"c":"ES","d":"2020-01-09","v":4},{"c":"ES","d":"2020-01-10","v":1},{"c":"ES","d":"2020-01-11","v":3},{"c":"ES","d":"2020-01-13","v":4},{"c":"ES","d":"2020-01-14","v":2},{"c":"ES","d":"2020-01-15","v":4},{"c":"ES","d":"2020-01-17","v":2},{"c":"ES","d":"2020-01-18","v":4},{"c":"ES","d":"2020-01-19","v":2},{"c":"ES","d":"2020-01-21","v":4},{"c":"ES","d":"2020-01-22","v":2},{"c":"ES","d":"2020-01-24","v":4},{"c":"ES","d":"2020-01-25","v":2},{"c":"ES","d":"2020-01-26","v":17},{"c":"ES","d":"2020-01-28","v":15},{"c":"ES","d":"2020-01-29","v":22},{"c":"ES","d":"2020-01-30","v":18},{"c":"ES","d":"2020-01-31","v":29},{"c":"ES","d":"2020-02-01","v":17},{"c":"ES","d":"2020-02-02","v":21},{"c":"ES","d":"2020-02-03","v":40},{"c":"ES","d":"2020-02-04","v":29},{"c":"ES","d":"2020-02-05","v":12},{"c":"ES","d":"2020-02-06","v":10},{"c":"ES","d":"2020-02-07","v":11},{"c":"ES","d":"2020-02-09","v":10},{"c":"ES","d":"2020-02-10","v":12},{"c":"ES","d":"2020-02-11","v":13},{"c":"ES","d":"2020-02-13","v":15},{"c":"ES","d":"2020-02-14","v":10},{"c":"ES","d":"2020-02-15","v":7},{"c":"ES","d":"2020-02-16","v":2},{"c":"ES","d":"2020-02-17","v":8},{"c":"ES","d":"2020-02-18","v":4},{"c":"ES","d":"2020-02-20","v":11},{"c":"ES","d":"2020-02-21","v":7},{"c":"ES","d":"2020-02-22","v":13},{"c":"ES","d":"2020-02-23","v":20},{"c":"ES","d":"2020-02-24","v":25},{"c":"ES","d":"2020-02-25","v":33},{"c":"ES","d":"2020-02-26","v":32},{"c":"ES","d":"2020-02-27","v":29},{"c":"ES","d":"2020-02-28","v":29},{"c":"ES","d":"2020-02-29","v":18},{"c":"ES","d":"2020-03-01","v":31},{"c":"ES","d":"2020-03-02","v":29},{"c":"ES","d":"2020-03-04","v":40},{"c":"ES","d":"2020-03-05","v":58},{"c":"ES","d":"2020-03-06","v":26},{"c":"ES","d":"2020-03-07","v":26},{"c":"ES","d":"2020-03-08","v":11},{"c":"ES","d":"2020-03-09","v":63},{"c":"ES","d":"2020-03-10","v":96},{"c":"ES","d":"2020-03-11","v":83},{"c":"ES","d":"2020-03-12","v":96},{"c":"ES","d":"2020-03-13","v":129},{"c":"ES","d":"2020-03-14","v":99},{"c":"ES","d":"2020-03-15","v":118},{"c":"ES","d":"2020-03-16","v":118},{"c":"ES","d":"2020-03-17","v":161},{"c":"ES","d":"2020-03-18","v":155},{"c":"ES","d":"2020-03-19","v":185},{"c":"ES","d":"2020-03-20","v":151},{"c":"ES","d":"2020-03-21","v":118},{"c":"ES","d":"2020-03-22","v":110},{"c":"ES","d":"2020-03-23","v":159},{"c":"ES","d":"2020-03-24","v":143},{"c":"ES","d":"2020-03-25","v":181},{"c":"ES","d":"2020-03-26","v":154},{"c":"ES","d":"2020-03-28","v":118},{"c":"ES","d":"2020-03-29","v":75},{"c":"ES","d":"2020-03-30","v":125},{"c":"ES","d":"2020-03-31","v":118},{"c":"ES","d":"2020-04-01","v":143},{"c":"ES","d":"2020-04-02","v":85},{"c":"ES","d":"2020-04-03","v":165},{"c":"ES","d":"2020-04-04","v":77},{"c":"ES","d":"2020-04-05","v":53},{"c":"ES","d":"2020-04-06","v":134},{"c":"ES","d":"2020-04-07","v":112},{"c":"ES","d":"2020-04-08","v":107},{"c":"ES","d":"2020-04-10","v":131},{"c":"ES","d":"2020-04-11","v":63},{"c":"ES","d":"2020-04-12","v":63},{"c":"ES","d":"2020-04-13","v":137},{"c":"ES","d":"2020-04-14","v":142},{"c":"ES","d":"2020-04-15","v":99},{"c":"ES","d":"2020-04-16","v":125},{"c":"ES","d":"2020-04-17","v":92},{"c":"ES","d":"2020-04-18","v":51},{"c":"ES","d":"2020-04-19","v":88},{"c":"ES","d":"2020-04-20","v":75},{"c":"ES","d":"2020-04-21","v":90},{"c":"ES","d":"2020-04-23","v":79},{"c":"ES","d":"2020-04-24","v":55},{"c":"ES","d":"2020-04-25","v":65},{"c":"ES","d":"2020-04-26","v":39},{"c":"ES","d":"2020-04-27","v":96},{"c":"ES","d":"2020-04-28","v":55},{"c":"ES","d":"2020-04-29","v":70},{"c":"ES","d":"2020-04-30","v":73},
{"c":"UK","d":"2019-12-01","v":40},{"c":"UK","d":"2019-12-03","v":25},{"c":"UK","d":"2019-12-05","v":45},{"c":"UK","d":"2019-12-07","v":20},{"c":"UK","d":"2019-12-09","v":35},{"c":"UK","d":"2019-12-11","v":30},{"c":"UK","d":"2019-12-13","v":15},{"c":"UK","d":"2019-12-15","v":40},{"c":"UK","d":"2019-12-17","v":25},{"c":"UK","d":"2019-12-19","v":30},{"c":"UK","d":"2019-12-21","v":45},{"c":"UK","d":"2019-12-23","v":20},{"c":"UK","d":"2019-12-25","v":35},{"c":"UK","d":"2019-12-27","v":15},{"c":"UK","d":"2019-12-29","v":30},{"c":"UK","d":"2019-12-31","v":25},{"c":"UK","d":"2020-01-02","v":40},{"c":"UK","d":"2020-01-04","v":20},{"c":"UK","d":"2020-01-06","v":30},{"c":"UK","d":"2020-01-08","v":50},{"c":"UK","d":"2020-01-10","v":25},{"c":"UK","d":"2020-01-12","v":40},{"c":"UK","d":"2020-01-14","v":30},{"c":"UK","d":"2020-01-16","v":55},{"c":"UK","d":"2020-01-18","v":35},{"c":"UK","d":"2020-01-20","v":45},{"c":"UK","d":"2020-01-22","v":30},{"c":"UK","d":"2020-01-24","v":60},{"c":"UK","d":"2020-01-26","v":40},{"c":"UK","d":"2020-01-28","v":70},{"c":"UK","d":"2020-01-30","v":45},{"c":"UK","d":"2020-02-01","v":55},{"c":"UK","d":"2020-02-03","v":90},{"c":"UK","d":"2020-02-05","v":50},{"c":"UK","d":"2020-02-07","v":80},{"c":"UK","d":"2020-02-09","v":40},{"c":"UK","d":"2020-02-11","v":100},{"c":"UK","d":"2020-02-13","v":60},{"c":"UK","d":"2020-02-15","v":75},{"c":"UK","d":"2020-02-17","v":45},{"c":"UK","d":"2020-02-19","v":95},{"c":"UK","d":"2020-02-21","v":55},{"c":"UK","d":"2020-02-23","v":70},{"c":"UK","d":"2020-02-25","v":40},{"c":"UK","d":"2020-02-27","v":85},{"c":"UK","d":"2020-02-29","v":60},{"c":"UK","d":"2020-03-02","v":100},{"c":"UK","d":"2020-03-04","v":70},{"c":"UK","d":"2020-03-06","v":150},{"c":"UK","d":"2020-03-08","v":110},{"c":"UK","d":"2020-03-10","v":220},{"c":"UK","d":"2020-03-12","v":160},{"c":"UK","d":"2020-03-14","v":250},{"c":"UK","d":"2020-03-16","v":480},{"c":"UK","d":"2020-03-18","v":300},{"c":"UK","d":"2020-03-20","v":220},{"c":"UK","d":"2020-03-22","v":420},{"c":"UK","d":"2020-03-24","v":260},{"c":"UK","d":"2020-03-26","v":450},{"c":"UK","d":"2020-03-28","v":180},{"c":"UK","d":"2020-03-30","v":400},{"c":"UK","d":"2020-04-01","v":150},{"c":"UK","d":"2020-04-03","v":380},{"c":"UK","d":"2020-04-05","v":250},{"c":"UK","d":"2020-04-07","v":460},{"c":"UK","d":"2020-04-09","v":130},{"c":"UK","d":"2020-04-11","v":400},{"c":"UK","d":"2020-04-13","v":200},{"c":"UK","d":"2020-04-15","v":350},{"c":"UK","d":"2020-04-17","v":280},{"c":"UK","d":"2020-04-19","v":420},{"c":"UK","d":"2020-04-21","v":180},{"c":"UK","d":"2020-04-23","v":330},{"c":"UK","d":"2020-04-25","v":220},{"c":"UK","d":"2020-04-27","v":170},{"c":"UK","d":"2020-04-29","v":300},{"c":"UK","d":"2020-04-30","v":200},
{"c":"US","d":"2019-12-01","v":40},{"c":"US","d":"2019-12-03","v":70},{"c":"US","d":"2019-12-05","v":30},{"c":"US","d":"2019-12-07","v":60},{"c":"US","d":"2019-12-09","v":40},{"c":"US","d":"2019-12-11","v":80},{"c":"US","d":"2019-12-13","v":35},{"c":"US","d":"2019-12-15","v":55},{"c":"US","d":"2019-12-17","v":45},{"c":"US","d":"2019-12-19","v":70},{"c":"US","d":"2019-12-21","v":40},{"c":"US","d":"2019-12-23","v":60},{"c":"US","d":"2019-12-25","v":45},{"c":"US","d":"2019-12-27","v":80},{"c":"US","d":"2019-12-29","v":50},{"c":"US","d":"2019-12-31","v":100},{"c":"US","d":"2020-01-02","v":45},{"c":"US","d":"2020-01-04","v":70},{"c":"US","d":"2020-01-06","v":55},{"c":"US","d":"2020-01-08","v":90},{"c":"US","d":"2020-01-10","v":60},{"c":"US","d":"2020-01-12","v":110},{"c":"US","d":"2020-01-14","v":80},{"c":"US","d":"2020-01-16","v":140},{"c":"US","d":"2020-01-18","v":70},{"c":"US","d":"2020-01-20","v":120},{"c":"US","d":"2020-01-22","v":90},{"c":"US","d":"2020-01-24","v":160},{"c":"US","d":"2020-01-26","v":100},{"c":"US","d":"2020-01-28","v":130},{"c":"US","d":"2020-01-30","v":90},{"c":"US","d":"2020-02-01","v":150},{"c":"US","d":"2020-02-03","v":200},{"c":"US","d":"2020-02-05","v":110},{"c":"US","d":"2020-02-07","v":260},{"c":"US","d":"2020-02-09","v":130},{"c":"US","d":"2020-02-11","v":180},{"c":"US","d":"2020-02-13","v":100},{"c":"US","d":"2020-02-15","v":220},{"c":"US","d":"2020-02-17","v":150},{"c":"US","d":"2020-02-19","v":120},{"c":"US","d":"2020-02-21","v":300},{"c":"US","d":"2020-02-23","v":150},{"c":"US","d":"2020-02-25","v":200},{"c":"US","d":"2020-02-27","v":120},{"c":"US","d":"2020-02-29","v":250},{"c":"US","d":"2020-03-02","v":130},{"c":"US","d":"2020-03-04","v":320},{"c":"US","d":"2020-03-06","v":180},{"c":"US","d":"2020-03-08","v":350},{"c":"US","d":"2020-03-10","v":250},{"c":"US","d":"2020-03-12","v":400},{"c":"US","d":"2020-03-14","v":300},{"c":"US","d":"2020-03-16","v":500},{"c":"US","d":"2020-03-18","v":400},{"c":"US","d":"2020-03-20","v":650},{"c":"US","d":"2020-03-22","v":500},{"c":"US","d":"2020-03-24","v":800},{"c":"US","d":"2020-03-26","v":450},{"c":"US","d":"2020-03-28","v":700},{"c":"US","d":"2020-03-30","v":550},{"c":"US","d":"2020-04-01","v":800},{"c":"US","d":"2020-04-03","v":150},{"c":"US","d":"2020-04-05","v":650},{"c":"US","d":"2020-04-07","v":350},{"c":"US","d":"2020-04-09","v":800},{"c":"US","d":"2020-04-11","v":500},{"c":"US","d":"2020-04-13","v":700},{"c":"US","d":"2020-04-15","v":300},{"c":"US","d":"2020-04-17","v":750},{"c":"US","d":"2020-04-19","v":250},{"c":"US","d":"2020-04-21","v":600},{"c":"US","d":"2020-04-23","v":400},{"c":"US","d":"2020-04-25","v":720},{"c":"US","d":"2020-04-27","v":300},{"c":"US","d":"2020-04-29","v":550},{"c":"US","d":"2020-04-30","v":420}
],
"st":[
{"c":"DE","d":"2020-01-01","v":0},{"c":"DE","d":"2020-01-20","v":0},{"c":"DE","d":"2020-01-23","v":3},{"c":"DE","d":"2020-01-26","v":5.6},{"c":"DE","d":"2020-02-08","v":5.5},{"c":"DE","d":"2020-02-11","v":8.1},{"c":"DE","d":"2020-02-13","v":11.2},{"c":"DE","d":"2020-02-23","v":10.9},{"c":"DE","d":"2020-02-27","v":18.2},{"c":"DE","d":"2020-03-01","v":24.7},{"c":"DE","d":"2020-03-05","v":24.7},{"c":"DE","d":"2020-03-08","v":27.5},{"c":"DE","d":"2020-03-10","v":30.7},{"c":"DE","d":"2020-03-13","v":32.7},{"c":"DE","d":"2020-03-16","v":33.8},{"c":"DE","d":"2020-03-18","v":40},{"c":"DE","d":"2020-03-20","v":54},{"c":"DE","d":"2020-03-22","v":68},{"c":"DE","d":"2020-03-24","v":76.6},{"c":"DE","d":"2020-03-26","v":78.1},{"c":"DE","d":"2020-03-28","v":77},{"c":"DE","d":"2020-04-30","v":77},
{"c":"IT","d":"2020-01-01","v":0},{"c":"IT","d":"2020-01-20","v":0},{"c":"IT","d":"2020-01-23","v":1.3},{"c":"IT","d":"2020-01-26","v":2.3},{"c":"IT","d":"2020-01-27","v":4},{"c":"IT","d":"2020-01-30","v":11.6},{"c":"IT","d":"2020-02-01","v":20.1},{"c":"IT","d":"2020-02-14","v":19.7},{"c":"IT","d":"2020-02-18","v":18.2},{"c":"IT","d":"2020-02-20","v":35},{"c":"IT","d":"2020-02-23","v":71.7},{"c":"IT","d":"2020-02-27","v":69.8},{"c":"IT","d":"2020-03-01","v":72.6},{"c":"IT","d":"2020-03-05","v":74.5},{"c":"IT","d":"2020-03-08","v":76.4},{"c":"IT","d":"2020-03-12","v":84.8},{"c":"IT","d":"2020-03-16","v":85.7},{"c":"IT","d":"2020-03-18","v":89.5},{"c":"IT","d":"2020-03-22","v":92.3},{"c":"IT","d":"2020-04-06","v":92.3},{"c":"IT","d":"2020-04-09","v":90.8},{"c":"IT","d":"2020-04-10","v":90.5},{"c":"IT","d":"2020-04-13","v":92.9},{"c":"IT","d":"2020-04-16","v":94.2},{"c":"IT","d":"2020-04-30","v":94.2},
{"c":"ES","d":"2020-01-01","v":0},{"c":"ES","d":"2020-01-28","v":0},{"c":"ES","d":"2020-01-30","v":5.6},{"c":"ES","d":"2020-02-01","v":11.3},{"c":"ES","d":"2020-03-02","v":11.3},{"c":"ES","d":"2020-03-05","v":10.3},{"c":"ES","d":"2020-03-07","v":18.6},{"c":"ES","d":"2020-03-10","v":48.2},{"c":"ES","d":"2020-03-13","v":65.6},{"c":"ES","d":"2020-03-15","v":71.7},{"c":"ES","d":"2020-03-26","v":71.7},{"c":"ES","d":"2020-03-28","v":71.1},{"c":"ES","d":"2020-03-30","v":81.2},{"c":"ES","d":"2020-04-02","v":85},{"c":"ES","d":"2020-04-30","v":85},
{"c":"UK","d":"2020-01-01","v":0},{"c":"UK","d":"2020-01-31","v":0},{"c":"UK","d":"2020-02-03","v":10.2},{"c":"UK","d":"2020-02-06","v":11.4},{"c":"UK","d":"2020-03-15","v":10.9},{"c":"UK","d":"2020-03-19","v":19.3},{"c":"UK","d":"2020-03-21","v":26.9},{"c":"UK","d":"2020-03-24","v":49.6},{"c":"UK","d":"2020-03-25","v":69.3},{"c":"UK","d":"2020-03-28","v":75.1},{"c":"UK","d":"2020-03-31","v":75.7},{"c":"UK","d":"2020-04-30","v":75.4},
{"c":"US","d":"2020-01-01","v":0},{"c":"US","d":"2020-01-30","v":0},{"c":"US","d":"2020-02-02","v":4.7},{"c":"US","d":"2020-02-04","v":5.7},{"c":"US","d":"2020-02-28","v":5.4},{"c":"US","d":"2020-03-02","v":9.1},{"c":"US","d":"2020-03-05","v":19.3},{"c":"US","d":"2020-03-07","v":20.8},{"c":"US","d":"2020-03-09","v":25.9},{"c":"US","d":"2020-03-12","v":40.6},{"c":"US","d":"2020-03-15","v":52.3},{"c":"US","d":"2020-03-18","v":64},{"c":"US","d":"2020-03-21","v":72.8},{"c":"US","d":"2020-03-23","v":73.5},{"c":"US","d":"2020-04-30","v":73.1}
],
"ca":[
{"c":"DE","d":"2020-01-01","v":0},{"c":"DE","d":"2020-03-02","v":0},{"c":"DE","d":"2020-03-06","v":1},{"c":"DE","d":"2020-03-10","v":2.3},{"c":"DE","d":"2020-03-13","v":5.5},{"c":"DE","d":"2020-03-16","v":12},{"c":"DE","d":"2020-03-18","v":25},{"c":"DE","d":"2020-03-20","v":43},{"c":"DE","d":"2020-03-22","v":46},{"c":"DE","d":"2020-03-25","v":54},{"c":"DE","d":"2020-03-27","v":60},{"c":"DE","d":"2020-03-30","v":60.7},{"c":"DE","d":"2020-04-01","v":64},{"c":"DE","d":"2020-04-03","v":72},{"c":"DE","d":"2020-04-05","v":60.7},{"c":"DE","d":"2020-04-07","v":52.6},{"c":"DE","d":"2020-04-10","v":51},{"c":"DE","d":"2020-04-13","v":38},{"c":"DE","d":"2020-04-15","v":30.8},{"c":"DE","d":"2020-04-16","v":33},{"c":"DE","d":"2020-04-19","v":34.7},{"c":"DE","d":"2020-04-21","v":26.6},{"c":"DE","d":"2020-04-23","v":25},{"c":"DE","d":"2020-04-26","v":18.5},{"c":"DE","d":"2020-04-28","v":15.9},{"c":"DE","d":"2020-04-30","v":19.2},
{"c":"IT","d":"2020-01-01","v":0},{"c":"IT","d":"2020-02-24","v":0},{"c":"IT","d":"2020-02-27","v":0.8},{"c":"IT","d":"2020-03-01","v":4.7},{"c":"IT","d":"2020-03-04","v":8.6},{"c":"IT","d":"2020-03-06","v":14.5},{"c":"IT","d":"2020-03-09","v":24},{"c":"IT","d":"2020-03-12","v":34},{"c":"IT","d":"2020-03-14","v":48},{"c":"IT","d":"2020-03-17","v":60},{"c":"IT","d":"2020-03-19","v":73},{"c":"IT","d":"2020-03-21","v":94},{"c":"IT","d":"2020-03-23","v":93},{"c":"IT","d":"2020-03-25","v":89},{"c":"IT","d":"2020-03-26","v":94},{"c":"IT","d":"2020-03-28","v":92},{"c":"IT","d":"2020-03-30","v":81},{"c":"IT","d":"2020-03-31","v":75},{"c":"IT","d":"2020-04-02","v":74},{"c":"IT","d":"2020-04-04","v":69},{"c":"IT","d":"2020-04-06","v":61.6},{"c":"IT","d":"2020-04-08","v":68.6},{"c":"IT","d":"2020-04-09","v":65.5},{"c":"IT","d":"2020-04-11","v":57.6},{"c":"IT","d":"2020-04-13","v":53.7},{"c":"IT","d":"2020-04-15","v":53.7},{"c":"IT","d":"2020-04-17","v":48.6},{"c":"IT","d":"2020-04-19","v":46.7},{"c":"IT","d":"2020-04-21","v":43.9},{"c":"IT","d":"2020-04-24","v":38},{"c":"IT","d":"2020-04-27","v":34},{"c":"IT","d":"2020-04-29","v":32},
{"c":"ES","d":"2020-01-01","v":0},{"c":"ES","d":"2020-03-02","v":0},{"c":"ES","d":"2020-03-05","v":2.6},{"c":"ES","d":"2020-03-07","v":8},{"c":"ES","d":"2020-03-10","v":21},{"c":"ES","d":"2020-03-13","v":32},{"c":"ES","d":"2020-03-15","v":43},{"c":"ES","d":"2020-03-17","v":57.6},{"c":"ES","d":"2020-03-18","v":76},{"c":"ES","d":"2020-03-20","v":90.6},{"c":"ES","d":"2020-03-22","v":112.6},{"c":"ES","d":"2020-03-24","v":142},{"c":"ES","d":"2020-03-25","v":171},{"c":"ES","d":"2020-03-26","v":183},{"c":"ES","d":"2020-03-28","v":175},{"c":"ES","d":"2020-03-29","v":156.6},{"c":"ES","d":"2020-03-30","v":153},{"c":"ES","d":"2020-04-01","v":157},{"c":"ES","d":"2020-04-03","v":149},{"c":"ES","d":"2020-04-05","v":112.6},{"c":"ES","d":"2020-04-06","v":109},{"c":"ES","d":"2020-04-09","v":108},{"c":"ES","d":"2020-04-11","v":81},{"c":"ES","d":"2020-04-14","v":81},{"c":"ES","d":"2020-04-15","v":65},{"c":"ES","d":"2020-04-18","v":43},{"c":"ES","d":"2020-04-20","v":52},{"c":"ES","d":"2020-04-22","v":54},{"c":"ES","d":"2020-04-24","v":43},{"c":"ES","d":"2020-04-27","v":32},{"c":"ES","d":"2020-04-29","v":28},{"c":"ES","d":"2020-04-30","v":26.4},
{"c":"UK","d":"2020-01-01","v":0},{"c":"UK","d":"2020-03-09","v":0},{"c":"UK","d":"2020-03-12","v":2.2},{"c":"UK","d":"2020-03-15","v":6},{"c":"UK","d":"2020-03-17","v":8.7},{"c":"UK","d":"2020-03-20","v":15},{"c":"UK","d":"2020-03-23","v":23},{"c":"UK","d":"2020-03-25","v":34},{"c":"UK","d":"2020-03-28","v":44},{"c":"UK","d":"2020-03-30","v":50.4},{"c":"UK","d":"2020-03-31","v":58.5},{"c":"UK","d":"2020-04-03","v":70},{"c":"UK","d":"2020-04-05","v":67},{"c":"UK","d":"2020-04-07","v":69},{"c":"UK","d":"2020-04-09","v":73.6},{"c":"UK","d":"2020-04-11","v":66},{"c":"UK","d":"2020-04-13","v":58.5},{"c":"UK","d":"2020-04-16","v":64},{"c":"UK","d":"2020-04-18","v":72},{"c":"UK","d":"2020-04-19","v":69.7},{"c":"UK","d":"2020-04-22","v":69},{"c":"UK","d":"2020-04-24","v":73.6},{"c":"UK","d":"2020-04-26","v":70.3},{"c":"UK","d":"2020-04-27","v":65},{"c":"UK","d":"2020-04-29","v":69.7},{"c":"UK","d":"2020-04-30","v":77},
{"c":"US","d":"2020-01-01","v":0},{"c":"US","d":"2020-03-10","v":0},{"c":"US","d":"2020-03-12","v":0.6},{"c":"US","d":"2020-03-15","v":2.8},{"c":"US","d":"2020-03-18","v":11.4},{"c":"US","d":"2020-03-21","v":26.8},{"c":"US","d":"2020-03-23","v":42},{"c":"US","d":"2020-03-26","v":57.6},{"c":"US","d":"2020-03-29","v":70},{"c":"US","d":"2020-03-31","v":79},{"c":"US","d":"2020-04-02","v":90},{"c":"US","d":"2020-04-04","v":91.5},{"c":"US","d":"2020-04-06","v":93},{"c":"US","d":"2020-04-09","v":97.6},{"c":"US","d":"2020-04-10","v":96},{"c":"US","d":"2020-04-12","v":85.3},{"c":"US","d":"2020-04-14","v":83.8},{"c":"US","d":"2020-04-16","v":89},{"c":"US","d":"2020-04-18","v":91.5},{"c":"US","d":"2020-04-20","v":80.7},{"c":"US","d":"2020-04-22","v":85.3},{"c":"US","d":"2020-04-24","v":89},{"c":"US","d":"2020-04-26","v":86.8},{"c":"US","d":"2020-04-29","v":83.8},{"c":"US","d":"2020-04-30","v":82.2}
]
},
"columns":5,
"spacing":{"row":37,"column":49},
"bounds":"flush",
"concat":[
{"width":206,"height":184,"title":{"text":"Germany","subtitle":"a.","offset":1,"subtitlePadding":2},"data":{"name":"ta"},"transform":[{"filter":"datum.c=='DE'"}],"mark":{"type":"line","color":"#2b6cb4"},"encoding":{"x":{"field":"d","type":"temporal","scale":{"type":"utc","domain":[{"year":2019,"month":11,"date":24,"utc":true},{"year":2020,"month":5,"date":9,"utc":true}]},"axis":{"title":null,"format":"%b","values":[{"year":2019,"month":12,"date":1,"utc":true},{"year":2020,"month":1,"date":1,"utc":true},{"year":2020,"month":2,"date":1,"utc":true},{"year":2020,"month":3,"date":1,"utc":true},{"year":2020,"month":4,"date":1,"utc":true},{"year":2020,"month":5,"date":1,"utc":true}]}},"y":{"field":"v","type":"quantitative","scale":{"domain":[170,8800],"nice":false,"zero":false},"axis":{"values":[2000,4000,6000,8000],"format":"~s","title":"Total tweet count","titleX":-23,"titleY":92,"titleBaseline":"alphabetic"}}}},
{"width":206,"height":184,"title":{"text":"Italy","offset":20},"data":{"name":"ta"},"transform":[{"filter":"datum.c=='IT'"}],"mark":{"type":"line","color":"#2b6cb4"},"encoding":{"x":{"field":"d","type":"temporal","scale":{"type":"utc","domain":[{"year":2019,"month":11,"date":24,"utc":true},{"year":2020,"month":5,"date":9,"utc":true}]},"axis":{"title":null,"format":"%b","values":[{"year":2019,"month":12,"date":1,"utc":true},{"year":2020,"month":1,"date":1,"utc":true},{"year":2020,"month":2,"date":1,"utc":true},{"year":2020,"month":3,"date":1,"utc":true},{"year":2020,"month":4,"date":1,"utc":true},{"year":2020,"month":5,"date":1,"utc":true}]}},"y":{"field":"v","type":"quantitative","scale":{"domain":[7400,51100],"nice":false,"zero":false},"axis":{"values":[10000,20000,30000,40000,50000],"format":"~s","title":null}}}},
{"width":206,"height":184,"title":{"text":"Spain","offset":20},"data":{"name":"ta"},"transform":[{"filter":"datum.c=='ES'"}],"mark":{"type":"line","color":"#2b6cb4"},"encoding":{"x":{"field":"d","type":"temporal","scale":{"type":"utc","domain":[{"year":2019,"month":11,"date":24,"utc":true},{"year":2020,"month":5,"date":9,"utc":true}]},"axis":{"title":null,"format":"%b","values":[{"year":2019,"month":12,"date":1,"utc":true},{"year":2020,"month":1,"date":1,"utc":true},{"year":2020,"month":2,"date":1,"utc":true},{"year":2020,"month":3,"date":1,"utc":true},{"year":2020,"month":4,"date":1,"utc":true},{"year":2020,"month":5,"date":1,"utc":true}]}},"y":{"field":"v","type":"quantitative","scale":{"domain":[700,3900],"nice":false,"zero":false},"axis":{"values":[1000,2000,3000],"format":"~s","title":null}}}},
{"width":206,"height":184,"title":{"text":"United Kingdom","offset":20},"data":{"name":"ta"},"transform":[{"filter":"datum.c=='UK'"}],"mark":{"type":"line","color":"#2b6cb4"},"encoding":{"x":{"field":"d","type":"temporal","scale":{"type":"utc","domain":[{"year":2019,"month":11,"date":24,"utc":true},{"year":2020,"month":5,"date":9,"utc":true}]},"axis":{"title":null,"format":"%b","values":[{"year":2019,"month":12,"date":1,"utc":true},{"year":2020,"month":1,"date":1,"utc":true},{"year":2020,"month":2,"date":1,"utc":true},{"year":2020,"month":3,"date":1,"utc":true},{"year":2020,"month":4,"date":1,"utc":true},{"year":2020,"month":5,"date":1,"utc":true}]}},"y":{"field":"v","type":"quantitative","scale":{"domain":[2700,83800],"nice":false,"zero":false},"axis":{"values":[20000,40000,60000,80000],"format":"~s","title":null}}}},
{"width":206,"height":184,"title":{"text":"United States","offset":20},"data":{"name":"ta"},"transform":[{"filter":"datum.c=='US'"}],"mark":{"type":"line","color":"#2b6cb4"},"encoding":{"x":{"field":"d","type":"temporal","scale":{"type":"utc","domain":[{"year":2019,"month":11,"date":24,"utc":true},{"year":2020,"month":5,"date":9,"utc":true}]},"axis":{"title":null,"format":"%b","values":[{"year":2019,"month":12,"date":1,"utc":true},{"year":2020,"month":1,"date":1,"utc":true},{"year":2020,"month":2,"date":1,"utc":true},{"year":2020,"month":3,"date":1,"utc":true},{"year":2020,"month":4,"date":1,"utc":true},{"year":2020,"month":5,"date":1,"utc":true}]}},"y":{"field":"v","type":"quantitative","scale":{"domain":[17600,372800],"nice":false,"zero":false},"axis":{"values":[100000,200000,300000],"format":"~s","title":null}}}},
{"width":206,"height":184,"title":{"text":"b.","offset":4},"data":{"name":"cv"},"transform":[{"filter":"datum.c=='DE'"}],"mark":{"type":"line","color":"#ee3b2c"},"encoding":{"x":{"field":"d","type":"temporal","scale":{"type":"utc","domain":[{"year":2019,"month":11,"date":24,"utc":true},{"year":2020,"month":5,"date":9,"utc":true}]},"axis":{"title":null,"format":"%b","values":[{"year":2019,"month":12,"date":1,"utc":true},{"year":2020,"month":1,"date":1,"utc":true},{"year":2020,"month":2,"date":1,"utc":true},{"year":2020,"month":3,"date":1,"utc":true},{"year":2020,"month":4,"date":1,"utc":true},{"year":2020,"month":5,"date":1,"utc":true}]}},"y":{"field":"v","type":"quantitative","scale":{"domain":[-18,628],"nice":false,"zero":false},"axis":{"values":[0,200,400,600],"title":"Covid-19 tweet count","titleX":-23,"titleY":92,"titleBaseline":"alphabetic"}}}},
{"width":206,"height":184,"data":{"name":"cv"},"transform":[{"filter":"datum.c=='IT'"}],"mark":{"type":"line","color":"#ee3b2c"},"encoding":{"x":{"field":"d","type":"temporal","scale":{"type":"utc","domain":[{"year":2019,"month":11,"date":24,"utc":true},{"year":2020,"month":5,"date":9,"utc":true}]},"axis":{"title":null,"format":"%b","values":[{"year":2019,"month":12,"date":1,"utc":true},{"year":2020,"month":1,"date":1,"utc":true},{"year":2020,"month":2,"date":1,"utc":true},{"year":2020,"month":3,"date":1,"utc":true},{"year":2020,"month":4,"date":1,"utc":true},{"year":2020,"month":5,"date":1,"utc":true}]}},"y":{"field":"v","type":"quantitative","scale":{"domain":[-5,404],"nice":false,"zero":false},"axis":{"values":[0,100,200,300,400],"title":null}}}},
{"width":206,"height":184,"data":{"name":"cv"},"transform":[{"filter":"datum.c=='ES'"}],"mark":{"type":"line","color":"#ee3b2c"},"encoding":{"x":{"field":"d","type":"temporal","scale":{"type":"utc","domain":[{"year":2019,"month":11,"date":24,"utc":true},{"year":2020,"month":5,"date":9,"utc":true}]},"axis":{"title":null,"format":"%b","values":[{"year":2019,"month":12,"date":1,"utc":true},{"year":2020,"month":1,"date":1,"utc":true},{"year":2020,"month":2,"date":1,"utc":true},{"year":2020,"month":3,"date":1,"utc":true},{"year":2020,"month":4,"date":1,"utc":true},{"year":2020,"month":5,"date":1,"utc":true}]}},"y":{"field":"v","type":"quantitative","scale":{"domain":[-8.5,194.4],"nice":false,"zero":false},"axis":{"values":[0,50,100,150],"title":null}}}},
{"width":206,"height":184,"data":{"name":"cv"},"transform":[{"filter":"datum.c=='UK'"}],"mark":{"type":"line","color":"#ee3b2c"},"encoding":{"x":{"field":"d","type":"temporal","scale":{"type":"utc","domain":[{"year":2019,"month":11,"date":24,"utc":true},{"year":2020,"month":5,"date":9,"utc":true}]},"axis":{"title":null,"format":"%b","values":[{"year":2019,"month":12,"date":1,"utc":true},{"year":2020,"month":1,"date":1,"utc":true},{"year":2020,"month":2,"date":1,"utc":true},{"year":2020,"month":3,"date":1,"utc":true},{"year":2020,"month":4,"date":1,"utc":true},{"year":2020,"month":5,"date":1,"utc":true}]}},"y":{"field":"v","type":"quantitative","scale":{"domain":[-15,510],"nice":false,"zero":false},"axis":{"values":[0,100,200,300,400,500],"title":null}}}},
{"width":206,"height":184,"data":{"name":"cv"},"transform":[{"filter":"datum.c=='US'"}],"mark":{"type":"line","color":"#ee3b2c"},"encoding":{"x":{"field":"d","type":"temporal","scale":{"type":"utc","domain":[{"year":2019,"month":11,"date":24,"utc":true},{"year":2020,"month":5,"date":9,"utc":true}]},"axis":{"title":null,"format":"%b","values":[{"year":2019,"month":12,"date":1,"utc":true},{"year":2020,"month":1,"date":1,"utc":true},{"year":2020,"month":2,"date":1,"utc":true},{"year":2020,"month":3,"date":1,"utc":true},{"year":2020,"month":4,"date":1,"utc":true},{"year":2020,"month":5,"date":1,"utc":true}]}},"y":{"field":"v","type":"quantitative","scale":{"domain":[-23,842],"nice":false,"zero":false},"axis":{"values":[0,200,400,600,800],"title":null}}}},
{"width":206,"height":184,"title":{"text":"c.","offset":3},"layer":[
{"data":{"name":"st"},"transform":[{"filter":"datum.c=='DE'"}],"mark":{"type":"line","color":"#fde725","strokeWidth":1.3,"interpolate":"monotone"},"encoding":{"x":{"field":"d","type":"temporal","scale":{"type":"utc","domain":[{"year":2019,"month":11,"date":24,"utc":true},{"year":2020,"month":5,"date":9,"utc":true}]},"axis":{"title":"Date","domain":true,"domainColor":"#222222","labelPadding":0,"titlePadding":1,"format":"%b","values":[{"year":2019,"month":12,"date":1,"utc":true},{"year":2020,"month":1,"date":1,"utc":true},{"year":2020,"month":2,"date":1,"utc":true},{"year":2020,"month":3,"date":1,"utc":true},{"year":2020,"month":4,"date":1,"utc":true},{"year":2020,"month":5,"date":1,"utc":true}]}},"y":{"field":"v","type":"quantitative","scale":{"domain":[-3.9,81.7],"nice":false,"zero":false},"axis":{"orient":"right","values":[0,20,40,60,80],"title":null,"domain":true,"domainColor":"#222222"}}}},
{"data":{"name":"ca"},"transform":[{"filter":"datum.c=='DE'"}],"mark":{"type":"line","color":"#440154","strokeWidth":1.3,"interpolate":"monotone"},"encoding":{"x":{"field":"d","type":"temporal","scale":{"type":"utc","domain":[{"year":2019,"month":11,"date":24,"utc":true},{"year":2020,"month":5,"date":9,"utc":true}]},"axis":{"title":"Date","domain":true,"domainColor":"#222222","labelPadding":0,"titlePadding":1,"format":"%b","values":[{"year":2019,"month":12,"date":1,"utc":true},{"year":2020,"month":1,"date":1,"utc":true},{"year":2020,"month":2,"date":1,"utc":true},{"year":2020,"month":3,"date":1,"utc":true},{"year":2020,"month":4,"date":1,"utc":true},{"year":2020,"month":5,"date":1,"utc":true}]}},"y":{"field":"v","type":"quantitative","scale":{"domain":[-8.1,170.5],"nice":false,"zero":false},"axis":{"orient":"left","values":[0,50,100,150],"title":"Number of cases (purple)","titleX":-23,"titleY":92,"titleBaseline":"alphabetic","domain":true,"domainColor":"#666666","domainWidth":1.5,"ticks":false,"labelPadding":4}}}}
],"resolve":{"scale":{"y":"independent"}}},
{"width":206,"height":184,"layer":[
{"data":{"name":"st"},"transform":[{"filter":"datum.c=='IT'"}],"mark":{"type":"line","color":"#fde725","strokeWidth":1.3,"interpolate":"monotone"},"encoding":{"x":{"field":"d","type":"temporal","scale":{"type":"utc","domain":[{"year":2019,"month":11,"date":24,"utc":true},{"year":2020,"month":5,"date":9,"utc":true}]},"axis":{"title":"Date","domain":true,"domainColor":"#222222","labelPadding":0,"titlePadding":1,"format":"%b","values":[{"year":2019,"month":12,"date":1,"utc":true},{"year":2020,"month":1,"date":1,"utc":true},{"year":2020,"month":2,"date":1,"utc":true},{"year":2020,"month":3,"date":1,"utc":true},{"year":2020,"month":4,"date":1,"utc":true},{"year":2020,"month":5,"date":1,"utc":true}]}},"y":{"field":"v","type":"quantitative","scale":{"domain":[-4.7,98.5],"nice":false,"zero":false},"axis":{"orient":"right","values":[0,25,50,75],"title":null,"domain":true,"domainColor":"#222222"}}}},
{"data":{"name":"ca"},"transform":[{"filter":"datum.c=='IT'"}],"mark":{"type":"line","color":"#440154","strokeWidth":1.3,"interpolate":"monotone"},"encoding":{"x":{"field":"d","type":"temporal","scale":{"type":"utc","domain":[{"year":2019,"month":11,"date":24,"utc":true},{"year":2020,"month":5,"date":9,"utc":true}]},"axis":{"title":"Date","domain":true,"domainColor":"#222222","labelPadding":0,"titlePadding":1,"format":"%b","values":[{"year":2019,"month":12,"date":1,"utc":true},{"year":2020,"month":1,"date":1,"utc":true},{"year":2020,"month":2,"date":1,"utc":true},{"year":2020,"month":3,"date":1,"utc":true},{"year":2020,"month":4,"date":1,"utc":true},{"year":2020,"month":5,"date":1,"utc":true}]}},"y":{"field":"v","type":"quantitative","scale":{"domain":[-9.8,205.9],"nice":false,"zero":false},"axis":{"orient":"left","values":[0,50,100,150,200],"title":null,"domain":true,"domainColor":"#666666","domainWidth":1.5,"ticks":false,"labelPadding":4}}}}
],"resolve":{"scale":{"y":"independent"}}},
{"width":206,"height":184,"layer":[
{"data":{"name":"st"},"transform":[{"filter":"datum.c=='ES'"}],"mark":{"type":"line","color":"#fde725","strokeWidth":1.3,"interpolate":"monotone"},"encoding":{"x":{"field":"d","type":"temporal","scale":{"type":"utc","domain":[{"year":2019,"month":11,"date":24,"utc":true},{"year":2020,"month":5,"date":9,"utc":true}]},"axis":{"title":"Date","domain":true,"domainColor":"#222222","labelPadding":0,"titlePadding":1,"format":"%b","values":[{"year":2019,"month":12,"date":1,"utc":true},{"year":2020,"month":1,"date":1,"utc":true},{"year":2020,"month":2,"date":1,"utc":true},{"year":2020,"month":3,"date":1,"utc":true},{"year":2020,"month":4,"date":1,"utc":true},{"year":2020,"month":5,"date":1,"utc":true}]}},"y":{"field":"v","type":"quantitative","scale":{"domain":[-4.5,91.3],"nice":false,"zero":false},"axis":{"orient":"right","values":[0,25,50,75],"title":null,"domain":true,"domainColor":"#222222"}}}},
{"data":{"name":"ca"},"transform":[{"filter":"datum.c=='ES'"}],"mark":{"type":"line","color":"#440154","strokeWidth":1.3,"interpolate":"monotone"},"encoding":{"x":{"field":"d","type":"temporal","scale":{"type":"utc","domain":[{"year":2019,"month":11,"date":24,"utc":true},{"year":2020,"month":5,"date":9,"utc":true}]},"axis":{"title":"Date","domain":true,"domainColor":"#222222","labelPadding":0,"titlePadding":1,"format":"%b","values":[{"year":2019,"month":12,"date":1,"utc":true},{"year":2020,"month":1,"date":1,"utc":true},{"year":2020,"month":2,"date":1,"utc":true},{"year":2020,"month":3,"date":1,"utc":true},{"year":2020,"month":4,"date":1,"utc":true},{"year":2020,"month":5,"date":1,"utc":true}]}},"y":{"field":"v","type":"quantitative","scale":{"domain":[-9.5,192.5],"nice":false,"zero":false},"axis":{"orient":"left","values":[0,50,100,150],"title":null,"domain":true,"domainColor":"#666666","domainWidth":1.5,"ticks":false,"labelPadding":4}}}}
],"resolve":{"scale":{"y":"independent"}}},
{"width":206,"height":184,"layer":[
{"data":{"name":"st"},"transform":[{"filter":"datum.c=='UK'"}],"mark":{"type":"line","color":"#fde725","strokeWidth":1.3,"interpolate":"monotone"},"encoding":{"x":{"field":"d","type":"temporal","scale":{"type":"utc","domain":[{"year":2019,"month":11,"date":24,"utc":true},{"year":2020,"month":5,"date":9,"utc":true}]},"axis":{"title":"Date","domain":true,"domainColor":"#222222","labelPadding":0,"titlePadding":1,"format":"%b","values":[{"year":2019,"month":12,"date":1,"utc":true},{"year":2020,"month":1,"date":1,"utc":true},{"year":2020,"month":2,"date":1,"utc":true},{"year":2020,"month":3,"date":1,"utc":true},{"year":2020,"month":4,"date":1,"utc":true},{"year":2020,"month":5,"date":1,"utc":true}]}},"y":{"field":"v","type":"quantitative","scale":{"domain":[-3.9,79.7],"nice":false,"zero":false},"axis":{"orient":"right","values":[0,20,40,60,80],"title":null,"domain":true,"domainColor":"#222222"}}}},
{"data":{"name":"ca"},"transform":[{"filter":"datum.c=='UK'"}],"mark":{"type":"line","color":"#440154","strokeWidth":1.3,"interpolate":"monotone"},"encoding":{"x":{"field":"d","type":"temporal","scale":{"type":"utc","domain":[{"year":2019,"month":11,"date":24,"utc":true},{"year":2020,"month":5,"date":9,"utc":true}]},"axis":{"title":"Date","domain":true,"domainColor":"#222222","labelPadding":0,"titlePadding":1,"format":"%b","values":[{"year":2019,"month":12,"date":1,"utc":true},{"year":2020,"month":1,"date":1,"utc":true},{"year":2020,"month":2,"date":1,"utc":true},{"year":2020,"month":3,"date":1,"utc":true},{"year":2020,"month":4,"date":1,"utc":true},{"year":2020,"month":5,"date":1,"utc":true}]}},"y":{"field":"v","type":"quantitative","scale":{"domain":[-8.4,168.6],"nice":false,"zero":false},"axis":{"orient":"left","values":[0,50,100,150],"title":null,"domain":true,"domainColor":"#666666","domainWidth":1.5,"ticks":false,"labelPadding":4}}}}
],"resolve":{"scale":{"y":"independent"}}},
{"width":206,"height":184,"layer":[
{"data":{"name":"st"},"transform":[{"filter":"datum.c=='US'"}],"mark":{"type":"line","color":"#fde725","strokeWidth":1.3,"interpolate":"monotone"},"encoding":{"x":{"field":"d","type":"temporal","scale":{"type":"utc","domain":[{"year":2019,"month":11,"date":24,"utc":true},{"year":2020,"month":5,"date":9,"utc":true}]},"axis":{"title":"Date","domain":true,"domainColor":"#222222","labelPadding":0,"titlePadding":1,"format":"%b","values":[{"year":2019,"month":12,"date":1,"utc":true},{"year":2020,"month":1,"date":1,"utc":true},{"year":2020,"month":2,"date":1,"utc":true},{"year":2020,"month":3,"date":1,"utc":true},{"year":2020,"month":4,"date":1,"utc":true},{"year":2020,"month":5,"date":1,"utc":true}]}},"y":{"field":"v","type":"quantitative","scale":{"domain":[-3.7,76.9],"nice":false,"zero":false},"axis":{"orient":"right","values":[0,20,40,60],"title":"Stringency index","titleX":21,"titleY":92,"titleAngle":90,"titleBaseline":"alphabetic","domain":true,"domainColor":"#222222"}}}},
{"data":{"name":"ca"},"transform":[{"filter":"datum.c=='US'"}],"mark":{"type":"line","color":"#440154","strokeWidth":1.3,"interpolate":"monotone"},"encoding":{"x":{"field":"d","type":"temporal","scale":{"type":"utc","domain":[{"year":2019,"month":11,"date":24,"utc":true},{"year":2020,"month":5,"date":9,"utc":true}]},"axis":{"title":"Date","domain":true,"domainColor":"#222222","labelPadding":0,"titlePadding":1,"format":"%b","values":[{"year":2019,"month":12,"date":1,"utc":true},{"year":2020,"month":1,"date":1,"utc":true},{"year":2020,"month":2,"date":1,"utc":true},{"year":2020,"month":3,"date":1,"utc":true},{"year":2020,"month":4,"date":1,"utc":true},{"year":2020,"month":5,"date":1,"utc":true}]}},"y":{"field":"v","type":"quantitative","scale":{"domain":[-7.7,161.7],"nice":false,"zero":false},"axis":{"orient":"left","values":[0,50,100,150],"title":null,"domain":true,"domainColor":"#666666","domainWidth":1.5,"ticks":false,"labelPadding":4}}}}
],"resolve":{"scale":{"y":"independent"}}}
]
}
